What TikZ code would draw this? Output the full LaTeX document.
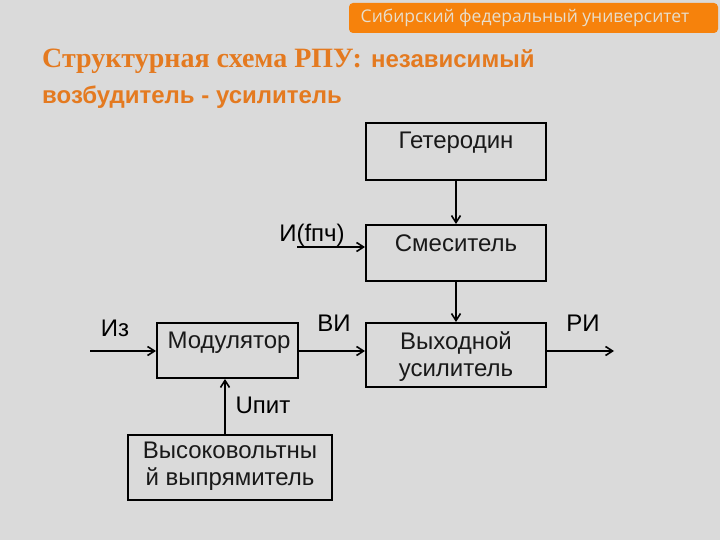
\documentclass[tikz,border=0pt]{standalone}
\usepackage{fontspec}
\setmainfont{Liberation Sans}
\newfontfamily\serifb{Liberation Serif}
\newfontfamily\bannerfont{Open Sans}
\usetikzlibrary{arrows.meta}
\definecolor{bg}{RGB}{218,218,218}
\definecolor{orng}{RGB}{246,130,12}
\definecolor{ttl}{RGB}{228,122,32}
\definecolor{bantxt}{RGB}{232,222,204}
\definecolor{boxtxt}{RGB}{25,25,25}
\tikzset{
  box/.style={draw=black, line width=2pt, minimum width=#1, inner sep=0pt},
  boxt/.style={text=boxtxt, font=\fontsize{24}{27}\selectfont, align=center, inner sep=0pt},
  lbl/.style={text=black, font=\fontsize{24}{27}\selectfont, inner sep=0pt},
  arr/.style={line width=2pt, -{Straight Barb[length=7pt,width=9pt,line width=1.6pt]}},
}
\begin{document}
\begin{tikzpicture}[x=1pt,y=-1pt]
\fill[bg] (0,0) rectangle (720,540);
\useasboundingbox (0,0) rectangle (720,540);
% banner
\node[fill=orng, rounded corners=4pt, minimum width=369pt, minimum height=30pt, inner sep=0pt] (banner) at (533.5,18) {};
\node[text=bantxt, font=\bannerfont\fontsize{17.5}{20}\selectfont, inner sep=0pt] (bantext) at (525,18) {Сибирский федеральный университет};
% title
\node[anchor=west, text=ttl, inner sep=0pt] (title1) at (42,61)
  {{\serifb\bfseries\fontsize{28}{33}\selectfont Структурная схема РПУ:}\hspace{9pt}{\bfseries\fontsize{24}{28}\selectfont независимый}};
\node[anchor=west, text=ttl, inner sep=0pt, font=\bfseries\fontsize{24}{28}\selectfont] (title2) at (42,97) {возбудитель - усилитель};
% boxes
\node[box=180pt, minimum height=57pt] (het) at (456,151.5) {};
\node[boxt] (hett) at (456,143) {Гетеродин};
\node[box=180pt, minimum height=56pt] (smes) at (456,253) {};
\node[boxt] (smest) at (456,243) {Смеситель};
\node[box=180pt, minimum height=64pt] (vyh) at (456,355) {};
\node[boxt] (vyht) at (456,357) {Выходной\\усилитель};
\node[box=141pt, minimum height=55pt] (mod) at (227.5,350.5) {};
\node[boxt] (modt) at (229,343) {Модулятор};
\node[box=204pt, minimum height=65pt] (hv) at (230,467.5) {};
\node[boxt] (hvt) at (230,466.5) {Высоковольтны\\й выпрямитель};
% free ends
\coordinate (iz) at (90,351);
\coordinate (ri) at (614,351);
\coordinate (fp) at (297,247);
\coordinate (upx) at (225,0);
% connectors
\draw[arr] (het.south) -- (smes.north);
\draw[arr] (smes.south) -- (vyh.north);
\draw[arr] (iz) -- (mod.west |- iz);
\draw[arr] (mod.east |- iz) -- (vyh.west |- iz);
\draw[arr] (vyh.east |- ri) -- (ri);
\draw[arr] (fp) -- (smes.west |- fp);
\draw[arr] (hv.north -| upx) -- (mod.south -| upx);
% labels
\node[lbl] (lbliz) at (115,328) {Из};
\node[lbl] (lblvi) at (334,323) {ВИ};
\node[lbl] (lblri) at (583,323) {РИ};
\node[lbl] (lblfp) at (312,235) {И(fпч)};
\node[lbl] (lblup) at (263,405) {Uпит};
\end{tikzpicture}
\end{document}
